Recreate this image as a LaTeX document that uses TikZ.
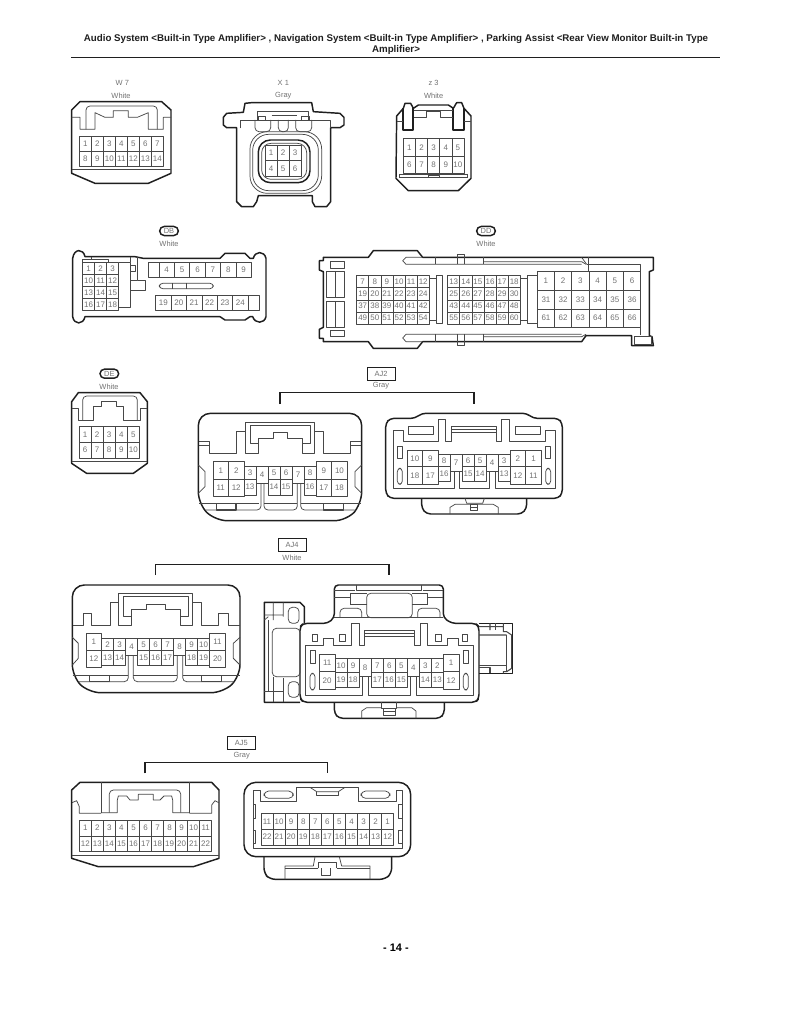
\documentclass[tikz,border=0pt]{standalone}
\usepackage{fontspec}
\setmainfont{Liberation Sans}
\definecolor{ink}{gray}{0.12}
\definecolor{thin}{gray}{0.28}
\definecolor{numg}{gray}{0.45}
\newcount\cellno
\newcommand{\ccell}[5]{%
  \draw[il] (#1,#2) rectangle (#3,#4);
  \global\advance\cellno by 1
  \node[cellnum] (cell\the\cellno) at ({(#1+#3)/2},{(#2+#4)/2}) {#5};}
\newcommand{\crow}[5]{%
  \foreach \t [count=\i from 0] in {#5} {%
    \pgfmathsetmacro\xa{#1+\i*#2}\pgfmathsetmacro\xb{#1+(\i+1)*#2}%
    \ccell{\xa}{#3}{\xb}{#4}{\t}}}
\tikzset{
  ol/.style={draw=ink,line width=1.1pt,line join=round},
  il/.style={draw=thin,line width=0.55pt,line join=round},
  cellnum/.style={font=\fontsize{6}{6}\selectfont,text=numg,inner sep=0pt},
  lab/.style={font=\fontsize{5.6}{6}\selectfont,text=numg,inner sep=0pt},
  tagbox/.style={draw=ink,line width=0.7pt,font=\fontsize{5.6}{6}\selectfont,text=numg,minimum width=21pt,minimum height=10pt,inner sep=0pt},
  pillbox/.style={draw=ink,line width=1.1pt,rounded corners=3.4pt,font=\fontsize{5.6}{6}\selectfont,text=numg,minimum width=14pt,minimum height=6.8pt,inner sep=0pt},
  bracket/.style={draw=ink,line width=1pt},
  titletext/.style={font=\fontsize{7.3}{7.3}\selectfont\bfseries,text=ink,inner sep=0pt},
  za/.style={shift={(60,30)},scale=1/3},
  zb/.style={shift={(60,220)},scale=1/3},
  zc/.style={shift={(310,220)},scale=1/3},
  zd/.style={shift={(60,360)},scale=1/3},
  ze/.style={shift={(380,400)},scale=1/3},
  zf/.style={shift={(60,530)},scale=1/3},
  zg/.style={shift={(255,575)},scale=1/3},
  zh/.style={shift={(60,730)},scale=1/3},
}
\begin{document}
\begin{tikzpicture}[x=0.75pt,y=-0.75pt]
\useasboundingbox[fill=white] (0,0) rectangle (791,1024);
% title
\node[titletext] (t1) at (396,39) {Audio System <Built-in Type Amplifier> , Navigation System <Built-in Type Amplifier> , Parking Assist <Rear View Monitor Built-in Type};
\node[titletext] (t2) at (396,50) {Amplifier>};
\coordinate (ruleL) at (71,57.5); \coordinate (ruleR) at (720,57.5);
\draw[draw=ink,line width=1.3pt] (ruleL)--(ruleR);
\node[font=\fontsize{8.2}{9}\selectfont\bfseries,inner sep=0pt] (pg) at (396,948) {- 14 -};

% ---------- W7 / X1 / Z3
\begin{scope}[za]
\node[lab] (w7) at (187,158) {W 7}; \node[lab] (w7c) at (183,198) {White};
\draw[ol] (35,240)--(60,215)--(305,215)--(333,240)--(333,430)--(265,460)--(105,460)--(35,430)--cycle;
\draw[il] (35,418)--(333,418);
\draw[il] (35,262)--(60,262)--(60,298)--(105,298)--(105,248)--(135,262)--(160,262)--(160,242)--(205,242)--(205,262)--(232,262)--(265,248)--(265,298)--(310,298)--(310,262)--(333,262);
\draw[il,rounded corners=3pt] (78,298)--(78,228)--(292,228)--(292,298);
\crow{58}{36}{320}{365}{1,2,3,4,5,6,7}
\crow{58}{36}{365}{410}{8,9,10,11,12,13,14}

\node[lab] (x1) at (670,158) {X 1}; \node[lab] (x1c) at (670,198) {Gray};
\draw[ol] (575,218)--(755,218)--(760,245)--(840,250)--(852,262)--(852,285)--(840,293)--(812,293)--(812,515)--(800,530)--(765,530)--(757,515)--(757,497)--(595,497)--(590,515)--(580,530)--(545,530)--(530,515)--(530,293)--(500,293)--(490,285)--(490,262)--(500,250)--(550,247)--(555,220)--cycle;
\draw[il,rounded corners=13pt] (570,305) rectangle (785,490);
\draw[il,rounded corners=12pt] (578,313) rectangle (775,482);
\draw[ol,rounded corners=9pt] (595,330) rectangle (750,458);
\draw[il,rounded corners=7pt] (605,340) rectangle (740,448);
\draw[il] (540,295)--(540,270)--(812,270)--(812,295);
\draw[il] (593,270)--(593,245)--(745,245)--(745,270);
\draw[il] (635,255)--(710,255);
\draw[il,rounded corners=3pt] (585,270)--(585,305)--(632,305)--(632,270);
\draw[il,rounded corners=3pt] (655,270)--(655,305)--(685,305)--(685,270);
\draw[il,rounded corners=3pt] (707,270)--(707,305)--(755,305)--(755,270);
\draw[il] (595,270)--(595,258)--(615,258)--(615,270);
\draw[il] (725,270)--(725,258)--(748,258)--(748,270);
\crow{615}{36}{345}{392}{1,2,3}
\crow{615}{36}{392}{438}{4,5,6}

\node[lab] (z3) at (1121,158) {z 3}; \node[lab] (z3c) at (1121,198) {White};
\draw[ol] (1010,258)--(1030,235)--(1035,220)--(1052,220)--(1060,235)--(1075,225)--(1165,225)--(1180,235)--(1190,218)--(1205,218)--(1212,235)--(1233,258)--(1233,445)--(1195,482)--(1045,482)--(1008,445)--cycle;
\draw[ol,line width=1.5pt] (1030,235)--(1030,300)--(1060,300)--(1060,235);
\draw[ol,line width=1.5pt] (1180,235)--(1180,300)--(1212,300)--(1212,235);
\draw[il] (1010,275)--(1030,275) (1212,275)--(1233,275);
\draw[il] (1062,240)--(1178,240);
\draw[il] (1062,262)--(1100,262)--(1100,245)--(1142,245)--(1142,262)--(1178,262);
\crow{1030}{36.4}{325}{380}{1,2,3,4,5}
\crow{1030}{36.4}{380}{430}{6,7,8,9,10}
\draw[il] (1018,432)--(1222,432) (1018,442)--(1222,442) (1018,432)--(1018,445) (1222,432)--(1222,445);
\draw[il] (1105,436) rectangle (1138,442);
\end{scope}

% ---------- DB
\begin{scope}[zb]
\node[pillbox] (db) at (327,33) {DB}; \node[lab] (dbc) at (327,72) {White};
\draw[ol] (38,115) .. controls (42,85) and (70,85) .. (75,110)--(225,110)--(250,115)--(480,115)--(495,100)--(555,100)--(570,115)--(580,115) .. controls (585,92) and (613,92) .. (618,115)--(618,290) .. controls (613,312) and (585,312) .. (578,290)--(570,290)--(555,300)--(495,300)--(480,290)--(75,290) .. controls (70,315) and (42,315) .. (38,290)--cycle;
\crow{68}{36}{127}{163}{1,2,3}
\crow{68}{36}{163}{199}{10,11,12}
\crow{68}{36}{199}{235}{13,14,15}
\crow{68}{36}{235}{271}{16,17,18}
\draw[il] (68,127)--(68,118)--(145,118)--(145,127) (95,110)--(95,118);
\draw[il] (176,127)--(212,127)--(212,262)--(176,262);
\draw[il] (212,135)--(225,135)--(225,155)--(212,155)--cycle;
\draw[il] (212,110)--(212,127) (232,112)--(232,180)--(255,180)--(255,212)--(212,212) (212,180)--(232,180);
\draw[il] (266,127) rectangle (297,173);
\crow{297}{46.2}{127}{173}{4,5,6,7,8,9}
\draw[il,rounded corners=2.5pt] (298,190) rectangle (460,206);
\draw[il] (338,190)--(338,206) (380,190)--(380,206);
\crow{287}{46.2}{225}{271}{19,20,21,22,23,24}
\draw[il] (564,225) rectangle (597,271);
\end{scope}

% ---------- DD
\begin{scope}[zc]
\node[pillbox] (dd) at (528,33) {DD}; \node[lab] (ddc) at (528,70) {White};
\draw[ol] (40,112)--(175,112)--(190,92)--(322,92)--(338,112)--(1030,112)--(1030,150)--(1018,155)--(1018,347)--(1026,350)--(1030,377)--(965,377)--(965,347)--(828,347)--(815,365)--(338,365)--(322,385)--(190,385)--(175,365)--(40,365)--(40,355)--(28,355)--(28,328)--(40,322)--(40,155)--(28,150)--(28,122)--(40,122)--cycle;
\draw[il] (50,155) rectangle (102,233) (77,155)--(77,233);
\draw[il] (50,243) rectangle (102,322) (77,243)--(77,322);
\draw[il] (62,125) rectangle (103,145) (62,332) rectangle (103,350);
\draw[il] (338,112)--(288,112)--(278,122)--(288,133)--(815,133);
\draw[il] (375,112)--(375,133) (520,112)--(520,133);
\draw[il] (442,133)--(442,103)--(462,103)--(462,133);
\draw[il] (522,125)--(815,125)--(828,133);
\draw[il] (815,112)--(830,133);
\draw[il] (835,112)--(835,155);
\draw[il] (830,133)--(992,133)--(992,155);
\draw[il] (338,365)--(288,365)--(278,354)--(288,343)--(815,343);
\draw[il] (375,343)--(375,365) (520,343)--(520,365);
\draw[il] (442,343)--(442,375)--(462,375)--(462,343);
\draw[il] (522,350)--(815,350)--(828,343);
\draw[il] (992,322)--(992,345);
\crow{140}{36.3}{167}{203}{7,8,9,10,11,12}
\crow{140}{36.3}{203}{240}{19,20,21,22,23,24}
\crow{140}{36.3}{240}{276}{37,38,39,40,41,42}
\crow{140}{36.3}{276}{312}{49,50,51,52,53,54}
\draw[il] (378,167) rectangle (397,310);
\draw[il] (358,175)--(378,175) (358,300)--(378,300);
\crow{413}{36.3}{167}{203}{13,14,15,16,17,18}
\crow{413}{36.3}{203}{240}{25,26,27,28,29,30}
\crow{413}{36.3}{240}{276}{43,44,45,46,47,48}
\crow{413}{36.3}{276}{312}{55,56,57,58,59,60}
\draw[il] (631,175)--(652,175) (631,300)--(652,300) (652,167)--(682,167) (652,167)--(652,310)--(682,310);
\crow{682}{51.7}{155}{211}{1,2,3,4,5,6}
\crow{682}{51.7}{211}{267}{31,32,33,34,35,36}
\crow{682}{51.7}{267}{322}{61,62,63,64,65,66}
\draw[il] (972,350) rectangle (1025,372);
\end{scope}

% ---------- DE + AJ2 left
\begin{scope}[zd]
\node[pillbox] (de) at (148,41) {DE}; \node[lab] (dec) at (147,80) {White};
\draw[ol] (35,125)--(55,98)--(240,98)--(262,125)--(262,310)--(220,340)--(80,340)--(35,310)--cycle;
\draw[il] (37,303)--(260,303);
\draw[il] (35,145)--(55,145)--(55,180)--(100,180)--(100,140)--(125,140)--(125,125)--(170,125)--(170,140)--(190,140)--(190,180)--(240,180)--(240,145)--(262,145);
\draw[il,rounded corners=3pt] (68,180)--(68,108)--(232,108)--(232,180);
\crow{57}{36.2}{200}{247}{1,2,3,4,5}
\crow{57}{36.2}{247}{294}{6,7,8,9,10}

\draw[ol,rounded corners=9pt] (415,160)--(905,160)--(905,432)--(860,482)--(465,482)--(415,432)--cycle;
\draw[il] (555,187)--(763,187)--(763,280)--(728,280)--(728,235)--(682,235)--(682,218)--(640,218)--(640,235)--(595,235)--(595,280)--(555,280)--cycle;
\draw[il] (570,197)--(750,197)--(750,250)--(728,250);
\draw[il] (570,197)--(570,250)--(595,250);
\draw[il] (416,245)--(448,245)--(448,280)--(530,280)--(530,215)--(555,215);
\draw[il] (763,215)--(790,215)--(790,280)--(872,280)--(872,245)--(904,245);
\draw[il] (416,255)--(448,255) (872,255)--(904,255);
\ccell{459}{305}{505.5}{357}{1}\ccell{505.5}{305}{552}{357}{2}
\ccell{459}{357}{505.5}{408}{11}\ccell{505.5}{357}{552}{408}{12}
\crow{552}{36}{320}{357}{3}
\ccell{588}{320}{624}{370}{4}
\crow{624}{36}{320}{357}{5,6}
\ccell{696}{320}{732}{370}{7}
\crow{732}{36}{320}{357}{8}
\ccell{768}{305}{815}{357}{9}\ccell{815}{305}{862}{357}{10}
\ccell{768}{357}{815}{408}{17}\ccell{815}{357}{862}{408}{18}
\crow{552}{36}{357}{405}{13}
\crow{624}{36}{357}{405}{14,15}
\crow{732}{36}{357}{405}{16}
\draw[il] (417,430)--(597,430) (612,430)--(712,430) (722,430)--(903,430);
\draw[il,rounded corners=3pt] (436,450)--(603,450)--(603,370);
\draw[il,rounded corners=3pt] (612,370)--(612,450)--(712,450)--(712,370);
\draw[il,rounded corners=3pt] (722,370)--(722,450)--(884,450);
\draw[il] (603,370)--(612,370) (712,370)--(722,370);
\draw[il,line width=.8pt] (470,430)--(470,450)--(528,450)--(528,430) (790,430)--(790,450)--(850,450)--(850,430);
\draw[il] (415,315)--(435,335)--(435,380)--(415,400) (905,315)--(885,335)--(885,380)--(905,400);
\end{scope}

% AJ2 tag and bracket
\node[tagbox] (aj2) at (381,374) {AJ2};
\node[lab] (aj2c) at (381,386) {Gray};
\coordinate (aj2a) at (280,404); \coordinate (aj2b) at (280,392.5);
\coordinate (aj2e) at (474,392.5); \coordinate (aj2f) at (474,404);
\draw[bracket] (aj2a)--(aj2b)--(aj2e)--(aj2f);

% ---------- AJ2 right
\begin{scope}[ze]
\draw[ol,rounded corners=3pt] (17,70)--(30,55)--(105,55)--(125,40)--(440,40)--(460,55)--(535,55)--(547,70)--(547,280)--(535,295)--(30,295)--(17,280)--cycle;
\draw[ol,rounded corners=3pt] (125,295)--(125,325)--(140,342)--(425,342)--(440,325)--(440,295);
\draw[il] (40,265)--(40,90)--(70,90)--(70,125)--(175,125)--(175,58)--(197,58)--(197,125)--(215,125)--(215,80)--(350,80)--(350,125)--(365,125)--(365,58)--(388,58)--(388,125)--(497,125)--(497,90)--(525,90)--(525,265)--(345,265)--(345,215)--(328,215)--(328,265)--(238,265)--(238,215)--(222,215)--(222,265)--cycle;
\draw[il] (215,88)--(350,88) (215,97)--(350,97);
\draw[il] (85,80) rectangle (160,103) (405,80) rectangle (480,103);
\draw[il] (52,140) rectangle (67,175) (497,140) rectangle (512,175);
\draw[il,rounded corners=2.5pt] (52,205) rectangle (67,253) (497,205) rectangle (512,253);
\ccell{81}{150}{127.5}{200}{10}\ccell{127.5}{150}{174}{200}{9}
\ccell{81}{200}{127.5}{252}{18}\ccell{127.5}{200}{174}{252}{17}
\ccell{174}{162}{210}{200}{8}\ccell{174}{200}{210}{245}{16}
\ccell{210}{162}{246}{215}{7}
\ccell{246}{162}{282}{200}{6}\ccell{246}{200}{282}{245}{15}
\ccell{282}{162}{318}{200}{5}\ccell{282}{200}{318}{245}{14}
\ccell{318}{162}{354}{215}{4}
\ccell{354}{162}{390}{200}{3}\ccell{354}{200}{390}{245}{13}
\ccell{390}{150}{437}{200}{2}\ccell{437}{150}{484}{200}{1}
\ccell{390}{200}{437}{252}{12}\ccell{437}{200}{484}{252}{11}
\draw[il] (255,295)--(260,310)--(308,310)--(313,295);
\draw[il] (210,342)--(210,322)--(225,313)--(340,313)--(355,322)--(355,342);
\draw[il] (272,313) rectangle (292,332) (272,323)--(292,323);
\end{scope}

% AJ4 tag and bracket
\node[tagbox] (aj4) at (292,545) {AJ4};
\node[lab] (aj4c) at (292,558) {White};
\coordinate (aj4a) at (155.7,575); \coordinate (aj4b) at (155.7,564.3);
\coordinate (aj4e) at (389,564.3); \coordinate (aj4f) at (389,575);
\draw[bracket] (aj4a)--(aj4b)--(aj4e)--(aj4f);

% ---------- AJ4 left
\begin{scope}[zf]
\draw[ol,rounded corners=9pt] (37,165)--(540,165)--(540,440)--(490,488)--(85,488)--(37,440)--cycle;
\draw[il] (38,287)--(70,287)--(70,250)--(95,250)--(95,287)--(150,287)--(150,218)--(175,218);
\draw[il] (175,190)--(398,190)--(398,287)--(362,287)--(362,238)--(315,238)--(315,222)--(260,222)--(260,238)--(215,238)--(215,287)--(175,287)--cycle;
\draw[il] (190,200)--(385,200)--(385,258)--(362,258) (190,200)--(190,258)--(215,258);
\draw[il] (398,218)--(425,218)--(425,287)--(475,287)--(475,250)--(505,250)--(505,287)--(539,287);
\ccell{78}{310}{125}{362}{1}\ccell{78}{362}{125}{412}{12}
\crow{125}{36}{325}{362}{2,3}\crow{125}{36}{362}{405}{13,14}
\ccell{197}{325}{233}{375}{4}
\crow{233}{36}{325}{362}{5,6,7}\crow{233}{36}{362}{405}{15,16,17}
\ccell{341}{325}{377}{375}{8}
\crow{377}{36}{325}{362}{9,10}\crow{377}{36}{362}{405}{18,19}
\ccell{449}{310}{496}{362}{11}\ccell{449}{362}{496}{412}{20}
\draw[il] (38,435)--(205,435) (220,435)--(352,435) (368,435)--(539,435);
\draw[il,rounded corners=3pt] (55,455)--(205,455)--(205,375);
\draw[il,rounded corners=3pt] (220,375)--(220,455)--(352,455)--(352,375);
\draw[il,rounded corners=3pt] (368,375)--(368,455)--(522,455);
\draw[il] (205,375)--(220,375) (352,375)--(368,375);
\draw[il,line width=.8pt] (88,435)--(88,455)--(148,455)--(148,435) (425,435)--(425,455)--(485,455)--(485,435);
\draw[il] (37,322)--(55,340)--(55,385)--(37,405) (540,322)--(520,340)--(520,385)--(540,405);
\end{scope}

% ---------- AJ4 right
\begin{scope}[zg]
\draw[ol] (135,382)--(28,382)--(28,82)--(135,82)--(148,95)--(148,145);
\draw[ol] (672,145)--(772,145)--(772,295)--(672,295);
\draw[ol,rounded corners=3pt] (238,382)--(238,415)--(252,430)--(555,430)--(568,415)--(568,382);
\draw[ol,rounded corners=3pt] (135,155)--(145,145)--(218,145)--(238,128)--(238,30)--(565,30)--(565,128)--(590,145)--(662,145)--(672,155)--(672,370)--(662,382)--(145,382)--(135,370)--cycle;
% top block
\draw[il] (238,128)--(565,128);
\draw[il] (305,30)--(305,45)--(500,45)--(500,30);
\draw[il] (238,68)--(285,68) (518,68)--(565,68) (238,45)--(300,45) (505,45)--(565,45);
\draw[il] (285,90)--(285,55)--(335,55) (518,90)--(518,55)--(472,55);
\draw[il] (288,88)--(335,88) (472,88)--(518,88);
\draw[il,rounded corners=3pt] (335,55) rectangle (472,128);
\draw[il,rounded corners=3pt] (255,128)--(255,100)--(320,100)--(320,128);
\draw[il,rounded corners=3pt] (488,128)--(488,100)--(555,100)--(555,128);
% left block
\draw[il] (55,82)--(55,135) (85,82)--(85,125) (28,120)--(85,120) (28,135)--(40,125);
\draw[il,rounded corners=3pt] (52,160) rectangle (135,305);
\draw[il] (40,135)--(40,350) (55,305)--(55,382) (85,310)--(85,382) (28,350)--(85,350);
\draw[il,rounded corners=3pt] (100,97) rectangle (132,145);
\draw[il,rounded corners=3pt] (100,320) rectangle (132,367);
% right block
\draw[il,line width=.8pt] (672,155)--(745,155) (672,180)--(755,180) (705,145)--(705,165) (745,145)--(745,170)--(755,170)--(770,180)--(770,280)--(755,290)--(745,290)--(745,295);
\draw[il] (720,145)--(720,165) (672,270)--(755,270) (755,180)--(755,290);
\draw[il,line width=.8pt] (672,278)--(705,278)--(705,295);
% inner frame
\draw[il] (172,178) rectangle (187,198) (254,178) rectangle (270,198) (542,178) rectangle (558,198) (622,178) rectangle (638,198);
\draw[il] (150,360)--(150,212)--(205,212)--(205,190)--(235,190)--(235,212)--(288,212)--(288,145)--(312,145)--(312,212)--(328,212)--(328,165)--(478,165)--(478,212)--(495,212)--(495,145)--(518,145)--(518,212)--(578,212)--(578,190)--(610,190)--(610,212)--(655,212)--(655,360)--(485,360)--(485,305)--(467,305)--(467,360)--(340,360)--(340,305)--(322,305)--(322,360)--cycle;
\draw[il] (328,175)--(478,175) (328,185)--(478,185);
\draw[il] (165,225) rectangle (180,265) (625,225) rectangle (640,265);
\draw[il,rounded corners=2.5pt] (165,295) rectangle (180,345) (625,295) rectangle (640,345);
\ccell{193}{238}{240}{290}{11}\ccell{193}{290}{240}{342}{20}
\crow{240}{36}{250}{292}{10,9}\crow{240}{36}{292}{338}{19,18}
\ccell{312}{250}{349}{305}{8}
\crow{349}{36}{250}{292}{7,6,5}\crow{349}{36}{292}{338}{17,16,15}
\ccell{457}{250}{493}{305}{4}
\crow{493}{36}{250}{292}{3,2}\crow{493}{36}{292}{338}{14,13}
\ccell{565}{238}{612}{290}{1}\ccell{565}{290}{612}{342}{12}
% bottom latch
\draw[il] (320,430)--(320,408)--(335,398)--(380,398) (425,398)--(470,398)--(483,408)--(483,430);
\draw[il] (380,382)--(380,400)--(425,400)--(425,382);
\draw[il] (385,400) rectangle (420,420) (385,410)--(420,410);
\end{scope}

% ---------- AJ5
\begin{scope}[zh]
\node[tagbox] (aj5) at (544,38) {AJ5};
\node[lab] (aj5c) at (545,77) {Gray};
\coordinate (aj5a) at (255,130); \coordinate (aj5b) at (255,97);
\coordinate (aj5e) at (803,97); \coordinate (aj5f) at (803,130);
\draw[bracket] (aj5a)--(aj5b)--(aj5e)--(aj5f);
\draw[ol] (35,180)--(60,157)--(455,157)--(477,180)--(477,385)--(400,410)--(115,410)--(35,385)--cycle;
\draw[il] (35,375)--(477,375);
\draw[il] (123,157)--(123,248) (388,157)--(388,248);
\draw[il] (36,218)--(50,212)--(58,230)--(58,250)--(123,250);
\draw[il] (388,250)--(455,250)--(455,225)--(465,212)--(476,218);
\draw[il,rounded corners=3pt] (148,248)--(148,180)--(362,180)--(362,248);
\draw[il] (123,248)--(172,248)--(172,210)--(175,198)--(200,198)--(210,210)--(235,210)--(235,193)--(280,193)--(280,210)--(300,210)--(312,198)--(335,198)--(338,210)--(338,248)--(388,248);
\crow{58}{36.1}{270}{318}{1,2,3,4,5,6,7,8,9,10,11}
\crow{58}{36.1}{318}{364}{12,13,14,15,16,17,18,19,20,21,22}
\draw[ol,rounded corners=9pt] (552,157) rectangle (1052,380);
\draw[ol,rounded corners=4pt] (612,380)--(612,430)--(630,448)--(975,448)--(995,430)--(995,380);
\draw[il] (580,355)--(580,182)--(600,182)--(600,213)--(710,213)--(710,172)--(895,172)--(895,213)--(1008,213)--(1008,182)--(1028,182)--(1028,355)--cycle;
\draw[il,rounded corners=3.5pt] (612,183) rectangle (700,205) (903,183) rectangle (990,205);
\draw[il] (750,172)--(770,185)--(835,185)--(855,172);
\draw[il] (770,185)--(770,195)--(835,195)--(835,185);
\draw[il] (580,222) rectangle (587,265) (1015,222) rectangle (1028,265);
\draw[il] (580,300) rectangle (587,340) (1015,300) rectangle (1028,340);
\crow{603}{36.2}{250}{298}{11,10,9,8,7,6,5,4,3,2,1}
\crow{603}{36.2}{298}{345}{22,21,20,19,18,17,16,15,14,13,12}
\draw[il] (765,380)--(760,408)--(675,408)--(675,448);
\draw[il] (838,380)--(845,408)--(930,408)--(930,448);
\draw[il] (775,415)--(775,398)--(830,398)--(830,415);
\draw[il] (675,415)--(775,415) (830,415)--(930,415);
\draw[il] (785,415)--(785,435)--(812,435)--(812,415);
\end{scope}
\end{tikzpicture}
\end{document}
